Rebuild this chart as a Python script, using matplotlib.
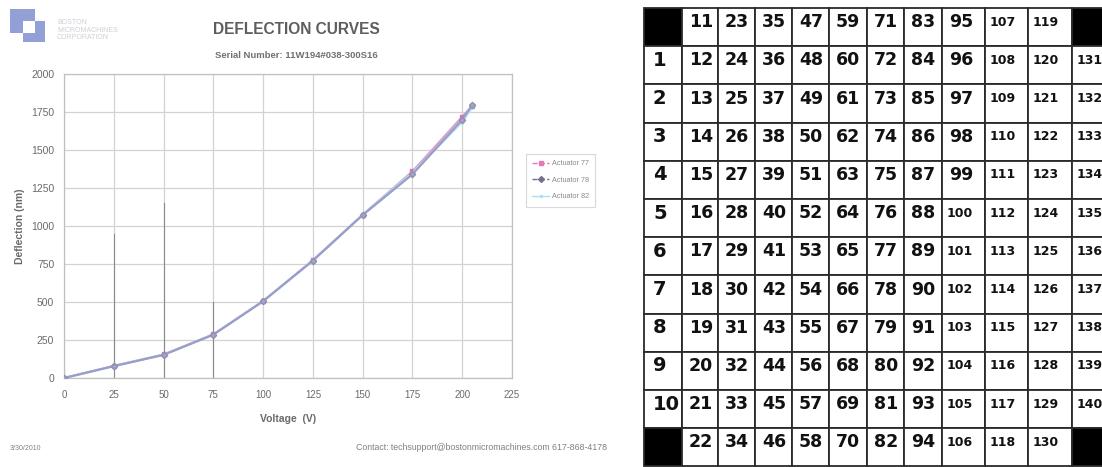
import numpy as np
import matplotlib
matplotlib.use("Agg")
import matplotlib.pyplot as plt
from matplotlib.patches import Rectangle
from matplotlib.lines import Line2D

## DATA

voltage = [0, 25, 50, 75, 100, 125, 150, 175, 200, 205]
act77 = [0, 80, 155, 288, 507, 776, 1075, 1360, 1720, 1790]
act78 = [0, 78, 152, 285, 505, 772, 1072, 1340, 1700, 1795]
act82 = [0, 79, 154, 286, 506, 774, 1074, 1350, 1685, 1780]

x_ticks = [0, 25, 50, 75, 100, 125, 150, 175, 200, 225]
y_ticks = [0, 250, 500, 750, 1000, 1250, 1500, 1750, 2000]

# darker streaks on the vertical gridlines (voltage, top in nm)
streak_v = [25, 50, 75]
streak_top = [950, 1150, 500]

# actuator numbering map
row_labels = [None, '1', '2', '3', '4', '5', '6', '7', '8', '9', '10', None]
grid = [
    [11, 23, 35, 47, 59, 71, 83, 95, 107, 119, None],
    [12, 24, 36, 48, 60, 72, 84, 96, 108, 120, 131],
    [13, 25, 37, 49, 61, 73, 85, 97, 109, 121, 132],
    [14, 26, 38, 50, 62, 74, 86, 98, 110, 122, 133],
    [15, 27, 39, 51, 63, 75, 87, 99, 111, 123, 134],
    [16, 28, 40, 52, 64, 76, 88, 100, 112, 124, 135],
    [17, 29, 41, 53, 65, 77, 89, 101, 113, 125, 136],
    [18, 30, 42, 54, 66, 78, 90, 102, 114, 126, 137],
    [19, 31, 43, 55, 67, 79, 91, 103, 115, 127, 138],
    [20, 32, 44, 56, 68, 80, 92, 104, 116, 128, 139],
    [21, 33, 45, 57, 69, 81, 93, 105, 117, 129, 140],
    [22, 34, 46, 58, 70, 82, 94, 106, 118, 130, None],
]

## LAYOUT

W, H = 1102, 467
col_w = [38, 36, 37, 37, 37, 38, 37, 38, 43, 43, 44, 43]
row_h = 38.2
tbl_x0, tbl_y0 = 644, 8

txt = '#6a6a6a'
plt.rcParams['font.family'] = ['Liberation Sans', 'DejaVu Sans']

fig = plt.figure(figsize=(W / 100, H / 100), dpi=100)
fig.patch.set_facecolor('white')

## PLOT DATA

ax = fig.add_axes([64 / W, (H - 378) / H, (512 - 64) / W, (378 - 74) / H])
ax.set_xlim(0, 225)
ax.set_ylim(0, 2000)
ax.set_xticks(x_ticks)
ax.set_yticks(y_ticks)
ax.grid(True, color='#d2d2d2', linewidth=0.9)
ax.set_axisbelow(True)
for s in ax.spines.values():
    s.set_color('#c0c0c0')
    s.set_linewidth(0.9)
ax.tick_params(axis='x', length=0, labelsize=7, labelcolor=txt, pad=9)
ax.tick_params(axis='y', length=0, labelsize=7.5, labelcolor=txt, pad=7)

for v, top in zip(streak_v, streak_top):
    ax.plot([v, v], [0, top], color='#8a8a8a', linewidth=0.8, zorder=1)

ax.plot(voltage, act77, color='#d8a0cc', linewidth=1.4, marker='s', markersize=3.4,
        markerfacecolor='#e070b4', markeredgecolor='#e070b4', label='Actuator 77', zorder=3)
ax.plot(voltage, act82, color='#a8e2f0', linewidth=1.6, marker='o', markersize=2,
        label='Actuator 82', zorder=4)
ax.plot(voltage, act78, color='#9c9cc8', linewidth=1.6, marker='D', markersize=3.2,
        markerfacecolor='#a4a4c4', markeredgecolor='#9090b4', label='Actuator 78', zorder=5)

ax.set_xlabel('Voltage  (V)', fontsize=7.5, color=txt, labelpad=10, fontweight='bold')
ax.set_ylabel('Deflection (nm)', fontsize=7.5, color=txt, labelpad=4, fontweight='bold')

handles = [
    Line2D([], [], color='#e27ab8', marker='s', markersize=3, linewidth=1, linestyle='--'),
    Line2D([], [], color='#707090', marker='D', markersize=3, linewidth=1, linestyle='--'),
    Line2D([], [], color='#a8e2f0', marker='o', markersize=1.5, linewidth=1),
]
leg = fig.legend(handles, ['Actuator 77', 'Actuator 78', 'Actuator 82'],
                 loc='upper left', bbox_to_anchor=(522 / W, 1 - 150 / H),
                 fontsize=5.2, frameon=True, fancybox=False, handlelength=2.4,
                 labelspacing=1.3, borderpad=0.9, handletextpad=0.3)
leg.get_frame().set_edgecolor('#d0d0d0')
leg.get_frame().set_linewidth(0.8)
for t in leg.get_texts():
    t.set_color('#8a8a8a')

## HEADER, FOOTER AND ACTUATOR MAP

ov = fig.add_axes([0, 0, 1, 1], zorder=5)
ov.set_xlim(0, W)
ov.set_ylim(H, 0)
ov.axis('off')

# company logo
ov.add_patch(Rectangle((10, 9), 25, 24, facecolor='#93a0d6', edgecolor='none'))
ov.add_patch(Rectangle((23, 21), 22, 21, facecolor='#93a0d6', edgecolor='none'))
ov.add_patch(Rectangle((23, 21), 12, 12, facecolor='white', edgecolor='none'))
ov.text(57, 30, 'BOSTON\nMICROMACHINES\nCORPORATION', fontsize=5, color='#cfcfd6',
        va='center', ha='left', linespacing=1.1)

ov.text(296, 30, 'DEFLECTION CURVES', fontsize=11.2, fontweight='bold', color='#5e5e5e',
        ha='center', va='center')
ov.text(296, 55, 'Serial Number: 11W194#038-300S16', fontsize=6.8, fontweight='bold',
        color='#707070', ha='center', va='center')

ov.text(10, 448, '3/30/2010', fontsize=5, color='#808080', ha='left', va='center')
ov.text(607, 448, 'Contact: techsupport@bostonmicromachines.com 617-868-4178',
        fontsize=6.3, color='#808080', ha='right', va='center')

col_x = tbl_x0 + np.concatenate([[0], np.cumsum(col_w)])
for r in range(len(row_labels)):
    y0 = tbl_y0 + r * row_h
    cells = [row_labels[r]] + grid[r]
    for c, val in enumerate(cells):
        x0 = col_x[c]
        black = val is None
        ov.add_patch(Rectangle((x0, y0), col_w[c], row_h,
                               facecolor='black' if black else 'white',
                               edgecolor='#2a2a2a', linewidth=1.3, clip_on=False))
        if black:
            continue
        label = str(val)
        if c == 0:
            size, pad = 14, 9
        elif len(label) == 3:
            size, pad = 9, 5
        else:
            size, pad = 12.5, 7
        ov.text(x0 + pad, y0 + row_h / 2 - 5, label, fontsize=size, fontweight='bold',
                family='DejaVu Sans', color='#111111', ha='left', va='center')

plt.savefig('out.png', dpi=100)
plt.close()
